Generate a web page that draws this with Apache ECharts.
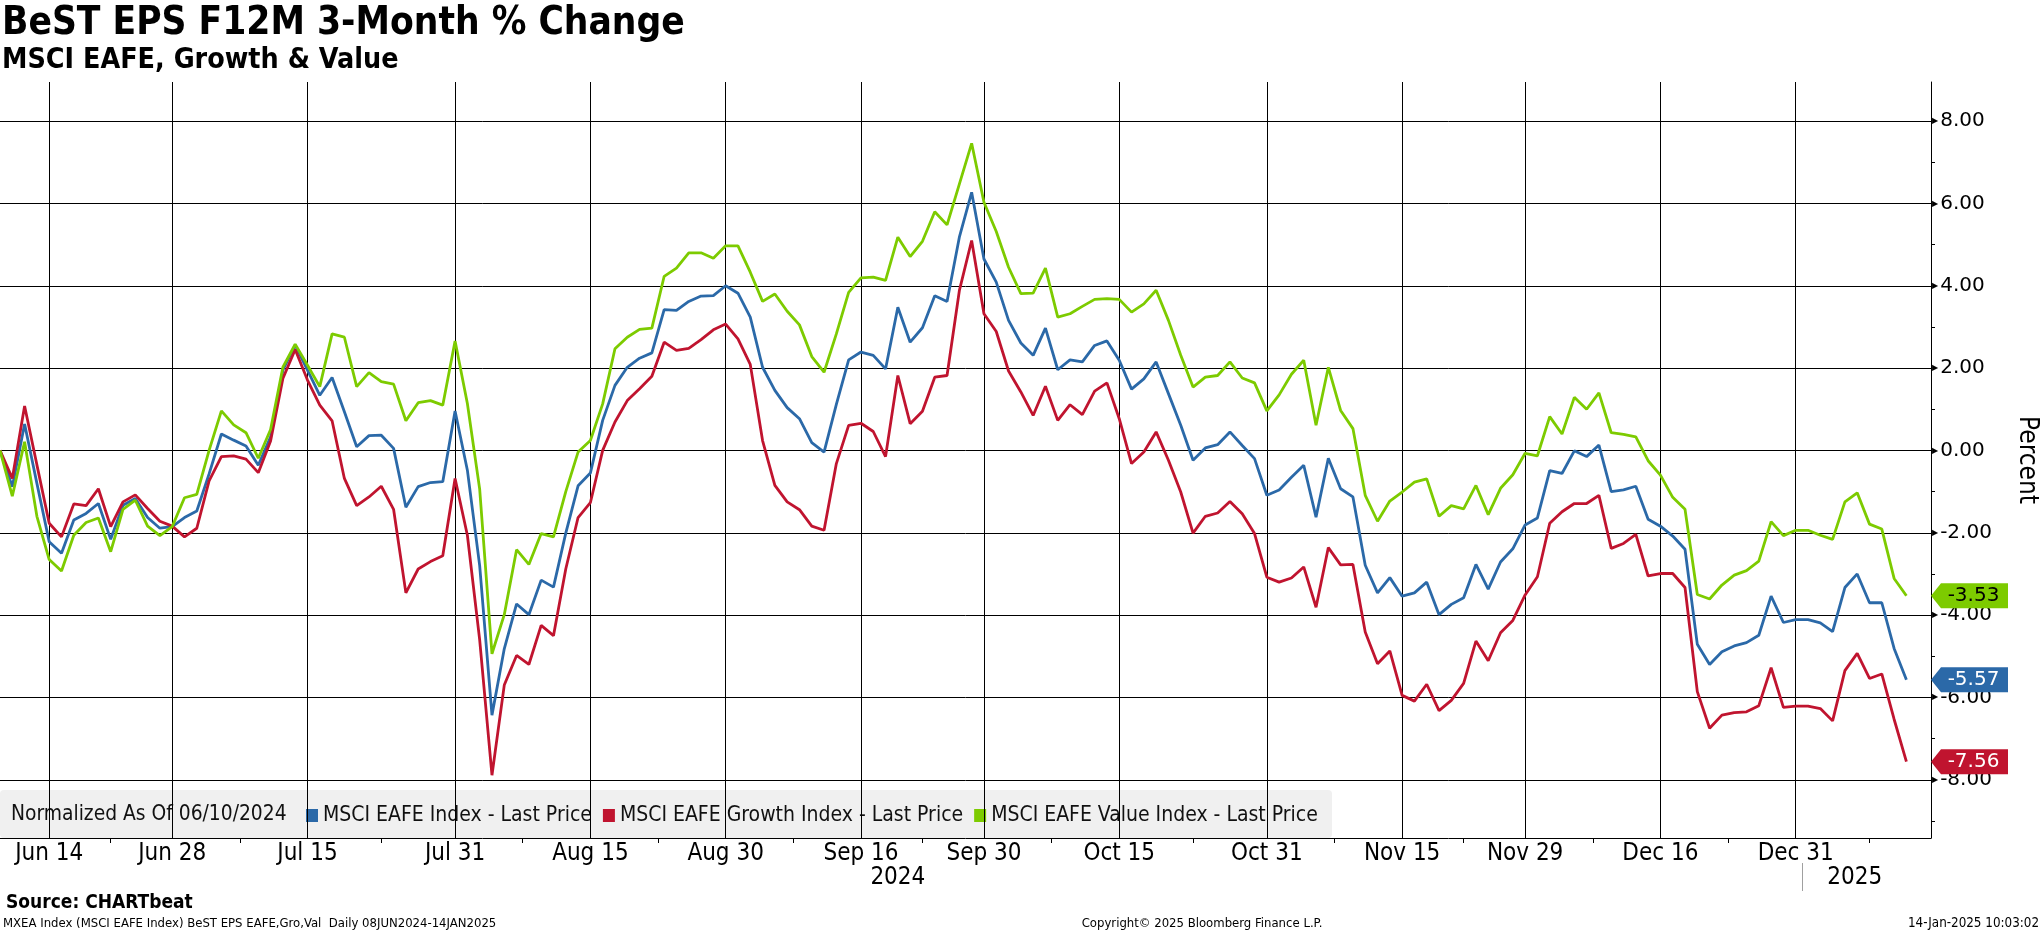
<!DOCTYPE html>
<html>
<head>
<meta charset="utf-8">
<script src="https://cdn.jsdelivr.net/npm/echarts@6.0.0/dist/echarts.min.js"></script>
<style>
html,body{margin:0;padding:0;background:#fff;}
#c{width:2041px;height:932px;}
</style>
</head>
<body>
<div id="c"></div>
<script>
// Trading-day index 0 = 10 Jun 2024 ... index 155 = 13 Jan 2025
const seriesNames = ['MSCI EAFE Index - Last Price', 'MSCI EAFE Growth Index - Last Price', 'MSCI EAFE Value Index - Last Price'];

const eafe = [
0,-0.88,0.64,-0.80,-2.22,-2.50,-1.69,-1.53,-1.29,-2.16,
-1.33,-1.17,-1.63,-1.89,-1.85,-1.63,-1.47,-0.57,0.40,0.25,
0.11,-0.36,0.33,1.95,2.56,1.95,1.34,1.77,0.94,0.09,
0.36,0.37,0.05,-1.38,-0.88,-0.78,-0.76,0.96,-0.48,-2.80,
-6.43,-4.82,-3.73,-3.99,-3.15,-3.32,-2.01,-0.86,-0.55,0.73,
1.58,2.02,2.24,2.37,3.42,3.40,3.62,3.75,3.76,4.00,
3.82,3.24,2.02,1.46,1.04,0.77,0.19,-0.04,1.12,2.20,
2.39,2.31,1.98,3.48,2.63,2.98,3.76,3.62,5.18,6.27,
4.65,4.09,3.16,2.61,2.31,2.97,1.96,2.20,2.15,2.55,
2.66,2.19,1.49,1.74,2.15,1.38,0.61,-0.24,0.06,0.14,
0.45,0.12,-0.20,-1.09,-0.96,-0.65,-0.36,-1.62,-0.19,-0.93,
-1.13,-2.79,-3.46,-3.09,-3.54,-3.46,-3.20,-3.99,-3.74,-3.58,
-2.77,-3.37,-2.71,-2.39,-1.81,-1.64,-0.49,-0.56,-0.01,-0.15,
0.13,-1.00,-0.96,-0.87,-1.67,-1.84,-2.08,-2.40,-4.71,-5.20,
-4.89,-4.75,-4.67,-4.49,-3.54,-4.18,-4.11,-4.11,-4.19,-4.40,
-3.33,-3.00,-3.70,-3.70,-4.81,-5.57];

const growth = [
0,-0.68,1.08,-0.35,-1.77,-2.10,-1.30,-1.34,-0.93,-1.85,
-1.25,-1.08,-1.41,-1.72,-1.84,-2.10,-1.89,-0.74,-0.15,-0.13,
-0.21,-0.54,0.23,1.75,2.45,1.71,1.10,0.72,-0.68,-1.34,
-1.13,-0.87,-1.43,-3.46,-2.88,-2.70,-2.56,-0.68,-2.06,-4.60,
-7.89,-5.70,-4.98,-5.20,-4.25,-4.50,-2.88,-1.63,-1.27,0.00,
0.69,1.21,1.50,1.80,2.63,2.43,2.48,2.69,2.93,3.07,
2.71,2.09,0.24,-0.85,-1.25,-1.44,-1.84,-1.94,-0.32,0.61,
0.66,0.46,-0.15,1.82,0.65,0.95,1.78,1.82,3.88,5.10,
3.32,2.89,1.93,1.42,0.85,1.56,0.73,1.11,0.87,1.44,
1.64,0.77,-0.32,-0.04,0.45,-0.24,-1.01,-2.01,-1.60,-1.52,
-1.24,-1.54,-2.02,-3.08,-3.20,-3.10,-2.83,-3.81,-2.36,-2.78,
-2.77,-4.41,-5.18,-4.87,-5.95,-6.09,-5.68,-6.32,-6.07,-5.66,
-4.63,-5.11,-4.43,-4.13,-3.51,-3.07,-1.77,-1.49,-1.29,-1.29,
-1.09,-2.38,-2.26,-2.04,-3.05,-2.99,-2.99,-3.33,-5.86,-6.75,
-6.43,-6.37,-6.35,-6.20,-5.28,-6.24,-6.21,-6.21,-6.27,-6.57,
-5.35,-4.93,-5.54,-5.43,-6.53,-7.56];

const valueIdx = [
0,-1.11,0.21,-1.60,-2.65,-2.93,-2.06,-1.75,-1.64,-2.46,
-1.43,-1.21,-1.84,-2.07,-1.85,-1.15,-1.07,0.00,0.96,0.62,
0.43,-0.19,0.51,2.02,2.58,2.07,1.55,2.83,2.75,1.55,
1.89,1.67,1.61,0.72,1.16,1.21,1.10,2.66,1.14,-0.94,
-4.94,-3.99,-2.41,-2.77,-2.02,-2.10,-1.00,-0.04,0.24,1.13,
2.47,2.75,2.94,2.97,4.23,4.43,4.80,4.80,4.67,4.97,
4.97,4.33,3.62,3.80,3.38,3.05,2.28,1.90,2.83,3.84,
4.19,4.21,4.13,5.18,4.71,5.08,5.80,5.48,6.47,7.46,
6.03,5.32,4.45,3.81,3.82,4.43,3.24,3.32,3.50,3.67,
3.69,3.67,3.36,3.56,3.89,3.16,2.31,1.54,1.78,1.82,
2.15,1.76,1.64,0.96,1.35,1.85,2.19,0.61,2.02,0.97,
0.53,-1.09,-1.72,-1.23,-1.01,-0.77,-0.69,-1.60,-1.34,-1.42,
-0.85,-1.56,-0.92,-0.59,-0.07,-0.13,0.82,0.40,1.29,1.00,
1.40,0.43,0.39,0.33,-0.25,-0.60,-1.14,-1.43,-3.50,-3.61,
-3.27,-3.03,-2.92,-2.69,-1.73,-2.07,-1.94,-1.94,-2.06,-2.16,
-1.25,-1.03,-1.79,-1.91,-3.11,-3.53];

// x-axis (trading-day index) tick positions and labels
const majorTickIdx = [4, 14, 25, 37, 48, 59, 70, 80, 91, 103, 114, 124, 135, 146];
const majorTickLabels = ['Jun 14','Jun 28','Jul 15','Jul 31','Aug 15','Aug 30','Sep 16','Sep 30','Oct 15','Oct 31','Nov 15','Nov 29','Dec 16','Dec 31'];
const minorTickIdx = [9, 19.5, 31, 42.5, 53.5, 64.5, 75, 85.5, 97, 108.5, 119, 129.5, 140.5, 152];
const yearLabelPos = [73, 150.8];
const yearLabels = ['2024', '2025'];
const yearBreakIdx = [146.5];
// y-axis ticks
const yMajorTicks = [-8, -6, -4, -2, 0, 2, 4, 6, 8];
const yMinorTicks = [-9, -7, -5, -3, -1, 1, 3, 5, 7];

const X_MIN = 0, X_MAX = 157, Y_MIN = -9.415, Y_MAX = 8.95;
const COND = "'DejaVu Sans Condensed','Liberation Sans Narrow','DejaVu Sans',sans-serif";
const REG = "'DejaVu Sans',sans-serif";
const COLORS = { blue: '#2b69a8', red: '#c0142f', green: '#7dcb00' };

const xLabelMap = {}; majorTickIdx.forEach((v, i) => { xLabelMap[v] = majorTickLabels[i]; });
const yearMap = {}; yearLabelPos.forEach((v, i) => { yearMap[v] = yearLabels[i]; });

function flag(arr, color, textColor) {
  const last = arr[arr.length - 1];
  return {
    silent: true,
    symbol: 'path://M0,12.5L10,0L77,0L77,25L10,25Z',
    symbolSize: [77, 25],
    symbolKeepAspect: false,
    symbolOffset: ['50%', 0],
    itemStyle: { color: color },
    label: { show: true, position: 'inside', offset: [4, 0], color: textColor, fontSize: 20, fontFamily: REG,
      formatter: p => Number(p.value).toFixed(2) },
    data: [{ coord: [X_MAX, last], value: last }]
  };
}

function lineSeries(name, arr, color, textColor) {
  return {
    name: name, type: 'line', xAxisIndex: 0, yAxisIndex: 0,
    data: arr.map((v, i) => [i, v]),
    showSymbol: false, symbol: 'none',
    lineStyle: { color: color, width: 2.8 },
    itemStyle: { color: color },
    emphasis: { disabled: true },
    markPoint: flag(arr, color, textColor)
  };
}

const chart = echarts.init(document.getElementById('c'), null, { renderer: 'canvas' });
chart.setOption({
  animation: false,
  backgroundColor: '#ffffff',
  textStyle: { fontFamily: COND },
  grid: [
    { left: 0, right: 110, top: 82, bottom: 94, containLabel: false, outerBoundsMode: 'none' },
    { left: 0, right: 110, top: 82, bottom: 94, containLabel: false, outerBoundsMode: 'none' },
    { left: 0, right: 110, top: 862, height: 1, containLabel: false, outerBoundsMode: 'none' }
  ],
  xAxis: [
    { gridIndex: 0, type: 'value', min: X_MIN, max: X_MAX, position: 'bottom', z: 1,
      axisLine: { show: true, onZero: false, lineStyle: { color: '#000', width: 1 } },
      axisTick: { show: false, customValues: majorTickIdx },
      axisLabel: { customValues: majorTickIdx, formatter: v => xLabelMap[v] || '', margin: 4,
        fontSize: 24, fontFamily: COND, color: '#000' },
      splitLine: { show: true, lineStyle: { color: '#000', width: 1 } } },
    { gridIndex: 1, type: 'value', min: X_MIN, max: X_MAX, position: 'bottom',
      axisLine: { show: false, onZero: false },
      axisTick: { show: true, customValues: minorTickIdx, length: 5, lineStyle: { color: '#000', width: 1 } },
      axisLabel: { show: false }, splitLine: { show: false } },
    { gridIndex: 2, type: 'value', min: X_MIN, max: X_MAX, position: 'bottom',
      axisLine: { show: false, onZero: false },
      axisTick: { show: true, customValues: yearBreakIdx, length: 28, lineStyle: { color: '#a0a0a0', width: 1 } },
      axisLabel: { customValues: yearLabelPos, formatter: v => yearMap[v] || '', margin: 3,
        fontSize: 24, fontFamily: COND, color: '#000' },
      splitLine: { show: false } }
  ],
  yAxis: [
    { gridIndex: 0, type: 'value', position: 'right', min: Y_MIN, max: Y_MAX, z: 1,
      axisLine: { show: true, onZero: false, lineStyle: { color: '#000', width: 1 } },
      axisTick: { show: false, customValues: yMajorTicks },
      axisLabel: { customValues: yMajorTicks, margin: 1,
        formatter: v => '{t|\u25B6}{v|' + Number(v).toFixed(2) + '}',
        rich: { t: { fontSize: 8, fontFamily: REG, color: '#000', padding: [0, 2, 0, 0] },
                v: { fontSize: 20, fontFamily: REG, color: '#000' } } },
      splitLine: { show: true, lineStyle: { color: '#000', width: 1 } },
      name: 'Percent', nameLocation: 'middle', nameRotate: -90, nameGap: 83,
      nameTextStyle: { fontSize: 26, fontFamily: COND, color: '#000' } },
    { gridIndex: 1, type: 'value', position: 'right', min: Y_MIN, max: Y_MAX,
      axisLine: { show: false, onZero: false },
      axisTick: { show: true, customValues: yMinorTicks, length: 4, lineStyle: { color: '#000', width: 1 } },
      axisLabel: { show: false }, splitLine: { show: false } },
    { gridIndex: 2, type: 'value', show: false, min: 0, max: 1 }
  ],
  legend: {
    show: true, left: 306, top: 805, padding: 0, itemGap: 11, itemWidth: 12, itemHeight: 13,
    icon: 'rect', selectedMode: false, z: -5,
    textStyle: { fontFamily: COND, fontSize: 21, color: '#111' },
    data: seriesNames
  },
  graphic: [
    { type: 'rect', z: -10, shape: { x: 0, y: 790, width: 1332, height: 48, r: 4 }, style: { fill: '#f0f0f0' } },
    { type: 'text', z: -5, x: 11, y: 815, style: { text: 'Normalized As Of 06/10/2024', font: '20.8px ' + COND, fill: '#111', align: 'left', verticalAlign: 'middle' } },
    { type: 'text', x: 2, y: 24, style: { text: 'BeST EPS F12M 3-Month % Change', font: 'bold 38.5px ' + COND, fill: '#000', align: 'left', verticalAlign: 'middle' } },
    { type: 'text', x: 2, y: 61, style: { text: 'MSCI EAFE, Growth & Value', font: 'bold 28.4px ' + COND, fill: '#000', align: 'left', verticalAlign: 'middle' } },
    { type: 'text', x: 6, y: 903, style: { text: 'Source: CHARTbeat', font: 'bold 19px ' + COND, fill: '#000', align: 'left', verticalAlign: 'middle' } },
    { type: 'text', x: 3, y: 924, style: { text: 'MXEA Index (MSCI EAFE Index) BeST EPS EAFE,Gro,Val  Daily 08JUN2024-14JAN2025', font: '13px ' + COND, fill: '#000', align: 'left', verticalAlign: 'middle' } },
    { type: 'text', x: 1202, y: 924, style: { text: 'Copyright\u00A9 2025 Bloomberg Finance L.P.', font: '13px ' + COND, fill: '#000', align: 'center', verticalAlign: 'middle' } },
    { type: 'text', x: 2039, y: 924, style: { text: '14-Jan-2025 10:03:02', font: '13.3px ' + COND, fill: '#000', align: 'right', verticalAlign: 'middle' } }
  ],
  series: [
    lineSeries(seriesNames[0], eafe, COLORS.blue, '#ffffff'),
    lineSeries(seriesNames[1], growth, COLORS.red, '#ffffff'),
    lineSeries(seriesNames[2], valueIdx, COLORS.green, '#000000')
  ]
});
</script>
</body>
</html>
